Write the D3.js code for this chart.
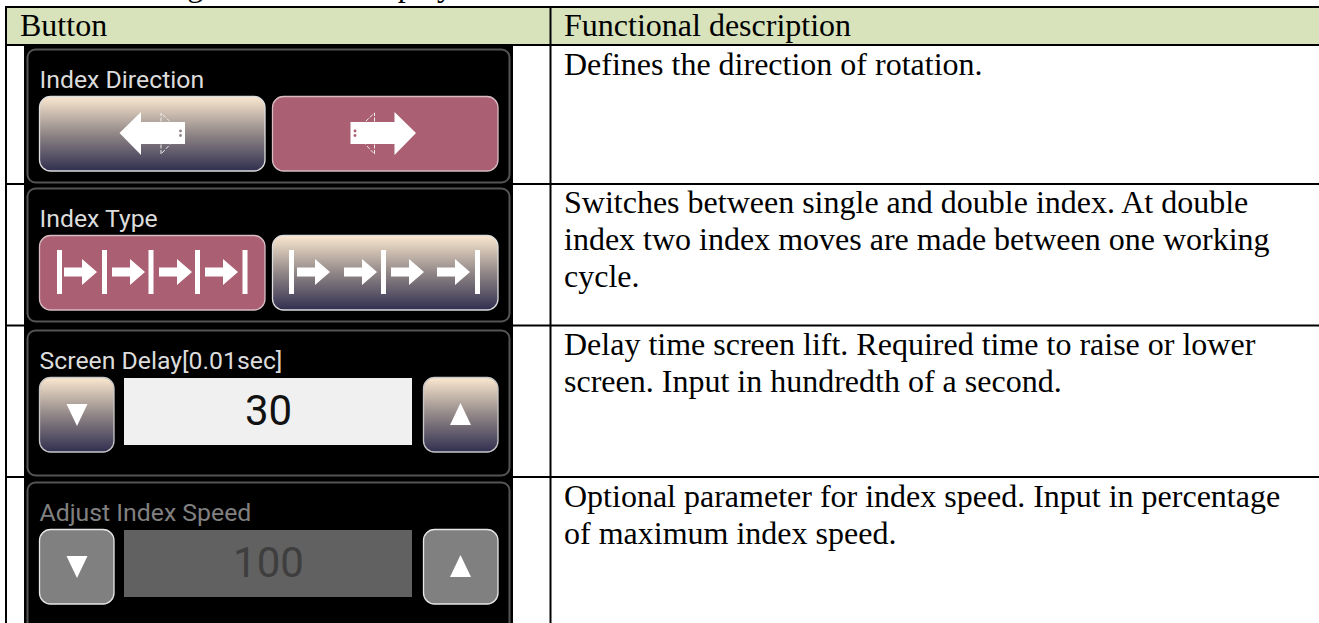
<!DOCTYPE html>
<html><head><meta charset="utf-8">
<script src="https://cdn.jsdelivr.net/npm/d3@7/dist/d3.min.js"></script>
<style>html,body{margin:0;padding:0;background:#fff;overflow:hidden}svg{display:block}</style>
</head><body><div id="c"></div>
<script>
// ---- content ----
const introText = "The following buttons are displayed";
const headerLabels = ["Button", "Functional description"];
const rowNames = ["direction", "type", "delay", "speed"];
const panelTitles = ["Index Direction", "Index Type", "Screen Delay[0.01sec]", "Adjust Index Speed"];
const descriptions = [
  ["Defines the direction of rotation."],
  ["Switches between single and double index. At double", "index two index moves are made between one working", "cycle."],
  ["Delay time screen lift. Required time to raise or lower", "screen. Input in hundredth of a second."],
  ["Optional parameter for index speed. Input in percentage", "of maximum index speed."]
];
const stepperValues = ["30", "100"];
const stepperRows = ["delay", "speed"];

// ---- layout ----
const W = 1319, H = 623;
const svg = d3.select("#c").append("svg").attr("width", W).attr("height", H);
const serif = "'Liberation Serif','Times New Roman',serif";
const sans = "Roboto,sans-serif";

const rowLineY = d3.scaleOrdinal(rowNames, [45, 184, 325.5, 477]);
const panelTop = d3.scaleOrdinal(rowNames, [49, 188, 330, 482]);
const panelBottom = d3.scaleOrdinal(rowNames, [183, 322, 476, 700]);
const titleBase = d3.scaleOrdinal(rowNames, [88, 227, 369, 521]);
const buttonTop = d3.scaleOrdinal(rowNames, [96, 235, 377, 529]);
const textBase = d3.scaleOrdinal(rowNames, [75, 213, 355, 507]);

const defs = svg.append("defs");
const grad = defs.append("linearGradient").attr("id", "btn").attr("x1", 0).attr("x2", 0).attr("y1", 0).attr("y2", 1);
grad.selectAll("stop").data([[0, "#fbe8d0"], [.5, "#918787"], [1, "#312f50"]]).join("stop")
  .attr("offset", d => d[0]).attr("stop-color", d => d[1]);

// intro line clipped by the page top
svg.append("text").text(introText).attr("x", 21).attr("y", -4)
  .attr("font-family", serif).attr("font-size", 32).attr("fill", "#000");

// header band
svg.append("rect").attr("x", 7).attr("y", 8).attr("width", W - 7).attr("height", 36).attr("fill", "#d8e3bc");
svg.selectAll("text.head").data(headerLabels).join("text").attr("class", "head").text(d => d)
  .attr("x", (d, i) => i ? 564 : 20).attr("y", 36)
  .attr("font-family", serif).attr("font-size", 32).attr("fill", "#000");

// table rules
const rule = (x1, y1, x2, y2) => svg.append("line").attr("x1", x1).attr("y1", y1).attr("x2", x2).attr("y2", y2)
  .attr("stroke", "#000").attr("stroke-width", 2);
rule(5, 7, W, 7);
rule(6, 7, 6, H);
rule(550.5, 7, 550.5, H);
svg.selectAll("line.row").data(rowNames).join("line").attr("class", "row")
  .attr("x1", 5).attr("x2", W)
  .attr("y1", d => rowLineY(d)).attr("y2", d => rowLineY(d))
  .attr("stroke", "#000").attr("stroke-width", 2);

// screenshot column
svg.append("rect").attr("x", 24).attr("y", 46).attr("width", 489).attr("height", H - 46).attr("fill", "#000");
svg.selectAll("rect.panel").data(rowNames).join("rect").attr("class", "panel")
  .attr("x", 27.5).attr("width", 482)
  .attr("y", d => panelTop(d) + .5).attr("height", d => panelBottom(d) - panelTop(d) - 1)
  .attr("rx", 8).attr("fill", "none").attr("stroke", "#555").attr("stroke-width", 2);
svg.selectAll("text.title").data(rowNames).join("text").attr("class", "title")
  .text((d, i) => panelTitles[i])
  .attr("x", 39.5).attr("y", d => titleBase(d))
  .attr("font-family", sans).attr("font-size", 24.8)
  .attr("fill", d => d === "speed" ? "#808080" : "#dcdcdc");

// buttons
const wide = [
  {row: "direction", x: 39.5, on: false}, {row: "direction", x: 272.5, on: true},
  {row: "type", x: 39.5, on: true}, {row: "type", x: 272.5, on: false}
];
svg.selectAll("rect.wide").data(wide).join("rect").attr("class", "wide")
  .attr("x", d => d.x).attr("y", d => buttonTop(d.row) + .5).attr("width", 225.5).attr("height", 74.5)
  .attr("rx", 11)
  .attr("fill", d => d.on ? "#ab5f72" : "url(#btn)")
  .attr("stroke", d => d.on ? "#d8bcc4" : "#dddddd").attr("stroke-width", 1.3);

// direction arrows (left arrow geometry, right one is its mirror)
const bigArrow = d3.line()([[119.5, 133], [141, 112], [141, 122], [185, 122], [185, 144], [141, 144], [141, 155]]) + "Z";
const smallTop = d3.line()([[161, 121.5], [161, 113], [170, 121.5]]);
const smallBot = d3.line()([[161, 144.5], [161, 154], [170, 144.5]]);
[false, true].forEach(m => {
  const g = svg.append("g").attr("transform", m ? "translate(535.5,0) scale(-1,1)" : null);
  g.append("path").attr("d", bigArrow).attr("fill", "#fff");
  g.selectAll("path.t").data([smallTop, smallBot]).join("path").attr("class", "t").attr("d", d => d)
    .attr("fill", "none").attr("stroke", "#eee").attr("stroke-width", 1).attr("stroke-dasharray", "4 1.5");
  g.selectAll("circle").data([131, 135.5]).join("circle").attr("cx", 180.5).attr("cy", d => d).attr("r", 1.4)
    .attr("fill", m ? "#ab5f72" : "#8c8384");
});

// index type icons
const barsOn = [59.5, 104.5, 151, 197.5, 245];
const arrowsOn = [64, 112, 159, 205];
const barsOff = [291.5, 383.5, 477.5];
const arrowsOff = [297, 344, 391, 437];
const cy = 272;
svg.selectAll("rect.bar").data(barsOn.concat(barsOff)).join("rect").attr("class", "bar")
  .attr("x", d => d - 2.5).attr("y", 250).attr("width", 5).attr("height", 44).attr("fill", "#fff");
svg.selectAll("path.ia").data(arrowsOn.concat(arrowsOff)).join("path").attr("class", "ia")
  .attr("d", d => d3.line()([[d, cy - 4.5], [d + 18, cy - 4.5], [d + 18, cy - 13], [d + 33, cy], [d + 18, cy + 13], [d + 18, cy + 4.5], [d, cy + 4.5]]) + "Z")
  .attr("fill", "#fff");

// steppers
const stepBtn = [];
stepperRows.forEach(r => [39.5, 423.5].forEach((x, i) => stepBtn.push({row: r, x, up: i === 1})));
svg.selectAll("rect.step").data(stepBtn).join("rect").attr("class", "step")
  .attr("x", d => d.x).attr("y", d => buttonTop(d.row) + .5).attr("width", 74.5).attr("height", 74.5).attr("rx", 11)
  .attr("fill", d => d.row === "speed" ? "#808080" : "url(#btn)")
  .attr("stroke", d => d.row === "speed" ? "#e6e6e6" : "#c8c8c8").attr("stroke-width", 1.3);
svg.selectAll("path.tri").data(stepBtn).join("path").attr("class", "tri")
  .attr("d", d => {
    const top = buttonTop(d.row);
    return d.up
      ? d3.line()([[460.5, top + 26], [450, top + 48], [471, top + 48]]) + "Z"
      : d3.line()([[77, top + 49], [66.5, top + 27], [87.5, top + 27]]) + "Z";
  }).attr("fill", "#fff");
svg.selectAll("rect.disp").data(stepperRows).join("rect").attr("class", "disp")
  .attr("x", 124).attr("width", 288).attr("y", d => buttonTop(d) + 1).attr("height", 67)
  .attr("fill", d => d === "speed" ? "#616161" : "#f0f0f0");
svg.selectAll("text.val").data(stepperRows).join("text").attr("class", "val")
  .text((d, i) => stepperValues[i])
  .attr("x", 268.5).attr("y", d => buttonTop(d) + 48).attr("text-anchor", "middle")
  .attr("font-family", sans).attr("font-size", 42)
  .attr("fill", d => d === "speed" ? "#3e3e3e" : "#111");

// descriptions
const lines = [];
rowNames.forEach((r, i) => descriptions[i].forEach((t, k) => lines.push({t, r, k})));
svg.selectAll("text.desc").data(lines).join("text").attr("class", "desc").text(d => d.t)
  .attr("x", 564).attr("y", d => textBase(d.r) + d.k * 37)
  .attr("font-family", serif).attr("font-size", 32).attr("fill", "#000");
</script></body></html>
